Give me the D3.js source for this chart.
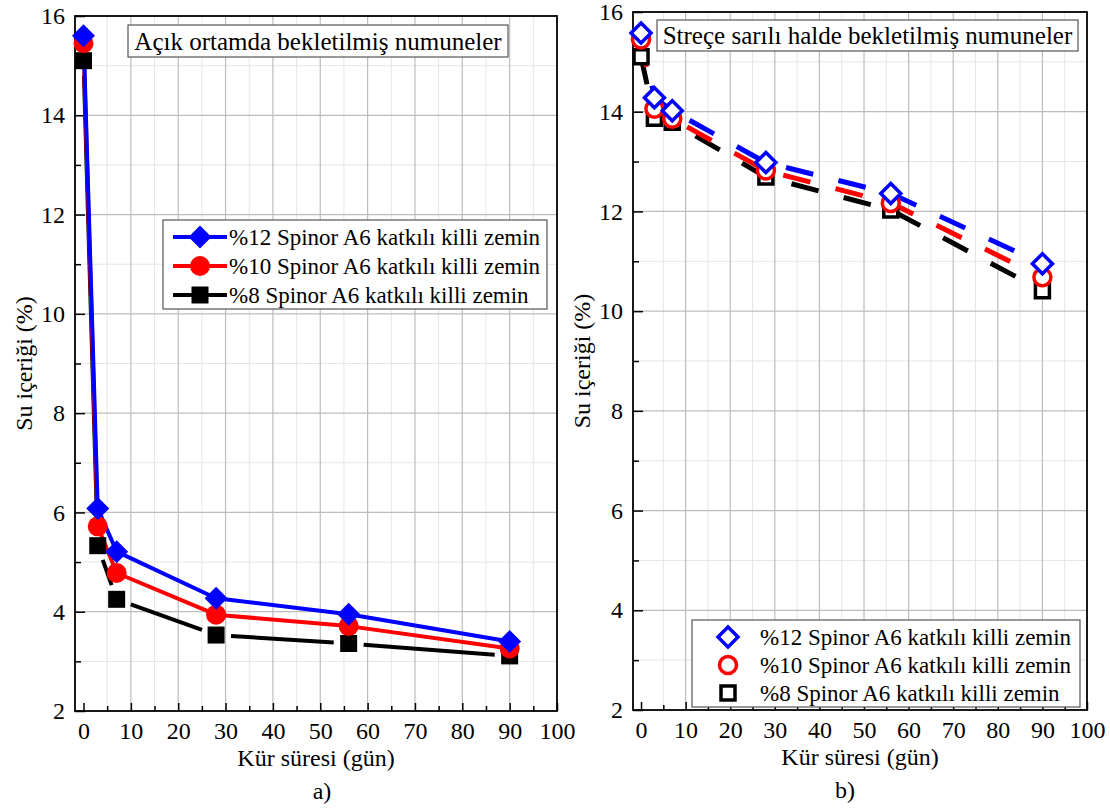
<!DOCTYPE html>
<html>
<head>
<meta charset="utf-8">
<script src="https://cdn.jsdelivr.net/npm/d3@7"></script>
<style>
    body { margin: 0; background: #fff; }
    #chart text { font-family: "Liberation Serif", "Times New Roman", serif !important; fill: #000; }
</style>
</head>
<body>
<svg id="chart" width="1110" height="810"></svg>
<script>
// Kür süresi (gün)
const days = [0, 3, 7, 28, 56, 90];

const seriesLabels = [
    "%12 Spinor A6 katkılı killi zemin",
    "%10 Spinor A6 katkılı killi zemin",
    "%8 Spinor A6 katkılı killi zemin"
];
const seriesColors = ["#0000ff", "#ff0000", "#000000"];
const seriesShapes = ["diamond", "circle", "square"];

// a) Açık ortamda bekletilmiş numuneler
const openAir12 = [15.6, 6.08, 5.21, 4.27, 3.95, 3.40];
const openAir10 = [15.45, 5.72, 4.78, 3.94, 3.71, 3.26];
const openAir8 = [15.1, 5.33, 4.25, 3.53, 3.36, 3.11];

// b) Streçe sarılı halde bekletilmiş numuneler
const wrapped12 = [15.58, 14.28, 14.02, 12.98, 12.36, 10.95];
const wrapped10 = [15.45, 14.06, 13.86, 12.82, 12.17, 10.68];
const wrapped8 = [15.1, 13.87, 13.79, 12.69, 12.03, 10.41];

const xTicks = [0, 10, 20, 30, 40, 50, 60, 70, 80, 90, 100];
const xMinorTicks = [5, 15, 25, 35, 45, 55, 65, 75, 85, 95];
const yTicks = [2, 4, 6, 8, 10, 12, 14, 16];
const yMinorTicks = [3, 5, 7, 9, 11, 13, 15];

const svg = d3.select("#chart");

// Marker path (Origin style: diamond is a rotated square)
function markerPath(shape, s) {
    if (shape === "diamond") return `M0,${-s}L${s},0L0,${s}L${-s},0Z`;
    if (shape === "square") return `M${-s},${-s}H${s}V${s}H${-s}Z`;
    return d3.symbol().type(d3.symbolCircle).size(Math.PI * s * s)();
}

function drawPanel(cfg) {
    const x = d3.scaleLinear().domain([-1.8, 100]).range([cfg.left, cfg.right]);
    const y = d3.scaleLinear().domain([2, 16]).range([cfg.bottom, cfg.top]);
    const g = svg.append("g");

    // grid
    g.selectAll(".vminor").data(xMinorTicks).enter().append("line")
        .attr("x1", d => x(d)).attr("x2", d => x(d))
        .attr("y1", cfg.top).attr("y2", cfg.bottom)
        .attr("stroke", "#e6e6e6").attr("stroke-width", 1);
    g.selectAll(".hminor").data(yMinorTicks).enter().append("line")
        .attr("x1", cfg.left).attr("x2", cfg.right)
        .attr("y1", d => y(d)).attr("y2", d => y(d))
        .attr("stroke", "#e6e6e6").attr("stroke-width", 1);
    g.selectAll(".vmajor").data(xTicks.slice(1, -1)).enter().append("line")
        .attr("x1", d => x(d)).attr("x2", d => x(d))
        .attr("y1", cfg.top).attr("y2", cfg.bottom)
        .attr("stroke", "#bdbdbd").attr("stroke-width", 1.2);
    g.selectAll(".hmajor").data(yTicks.slice(1, -1)).enter().append("line")
        .attr("x1", cfg.left).attr("x2", cfg.right)
        .attr("y1", d => y(d)).attr("y2", d => y(d))
        .attr("stroke", "#bdbdbd").attr("stroke-width", 1.2);

    // axes (ticks inward)
    const xAxis = g.append("g")
        .attr("transform", `translate(0,${cfg.bottom})`)
        .call(d3.axisBottom(x).tickValues(xTicks).tickSize(-8).tickPadding(11).tickFormat(d3.format("d")));
    g.append("g")
        .attr("transform", `translate(0,${cfg.bottom})`)
        .call(d3.axisBottom(x).tickValues(xMinorTicks).tickSize(-5).tickFormat(""));
    const yAxis = g.append("g")
        .attr("transform", `translate(${cfg.left},0)`)
        .call(d3.axisLeft(y).tickValues(yTicks).tickSize(-10).tickPadding(10).tickFormat(d3.format("d")));
    g.append("g")
        .attr("transform", `translate(${cfg.left},0)`)
        .call(d3.axisLeft(y).tickValues(yMinorTicks).tickSize(-6).tickFormat(""));
    g.selectAll(".domain").remove();
    g.selectAll("g").attr("font-family", null).attr("font-size", null);
    g.selectAll(".tick line").attr("stroke", "#000").attr("stroke-width", 1.5);
    xAxis.selectAll("text").style("font-size", "24px");
    yAxis.selectAll("text").style("font-size", "24px");

    // frame
    g.append("rect")
        .attr("x", cfg.left).attr("y", cfg.top)
        .attr("width", cfg.right - cfg.left).attr("height", cfg.bottom - cfg.top)
        .attr("fill", "none").attr("stroke", "#000").attr("stroke-width", 1.8);

    // series (draw from last to first so blue is on top)
    const order = [2, 1, 0];
    order.forEach(i => {
        const pts = days.map((d, k) => [x(d), y(cfg.series[i][k])]);
        const color = seriesColors[i];
        if (cfg.filled) {
            if (i === 2) {
                // black line leaves a gap around its markers
                for (let k = 0; k < pts.length - 1; k++) {
                    const [ax, ay] = pts[k], [bx, by] = pts[k + 1];
                    const len = Math.hypot(bx - ax, by - ay);
                    const gap = 15;
                    if (len <= 2 * gap) continue;
                    const ux = (bx - ax) / len, uy = (by - ay) / len;
                    g.append("line")
                        .attr("x1", ax + ux * gap).attr("y1", ay + uy * gap)
                        .attr("x2", bx - ux * gap).attr("y2", by - uy * gap)
                        .attr("stroke", color).attr("stroke-width", 4);
                }
            } else {
                g.append("path")
                    .attr("d", d3.line()(pts))
                    .attr("fill", "none").attr("stroke", color).attr("stroke-width", 4)
                    .attr("stroke-linejoin", "round");
            }
        } else {
            g.append("path")
                .attr("d", d3.line()(pts))
                .attr("fill", "none").attr("stroke", color).attr("stroke-width", 5)
                .attr("stroke-dasharray", "28,26");
        }
    });
    order.forEach(i => {
        const pts = days.map((d, k) => [x(d), y(cfg.series[i][k])]);
        const shape = seriesShapes[i];
        const size = shape === "diamond" ? 11.5 : shape === "circle" ? 10 : 8.5;
        g.selectAll(null).data(pts).enter().append("path")
            .attr("transform", p => `translate(${p[0]},${p[1]})`)
            .attr("d", markerPath(shape, cfg.filled ? size : size - 1.5))
            .attr("fill", cfg.filled ? seriesColors[i] : "#fff")
            .attr("stroke", seriesColors[i])
            .attr("stroke-width", cfg.filled ? 0 : 3.5);
    });

    // title box
    const tb = g.append("g");
    tb.append("rect")
        .attr("x", cfg.titleBox[0]).attr("y", cfg.titleBox[1])
        .attr("width", cfg.titleBox[2]).attr("height", cfg.titleBox[3])
        .attr("fill", "#fff").attr("stroke", "#555").attr("stroke-width", 1.2);
    tb.append("text")
        .attr("x", cfg.titleBox[0] + cfg.titleBox[2] / 2)
        .attr("y", cfg.titleBox[1] + cfg.titleBox[3] / 2)
        .attr("dy", "0.35em")
        .attr("text-anchor", "middle")
        .style("font-size", "25px")
        .text(cfg.title);

    // legend
    const lg = g.append("g");
    const lb = cfg.legendBox;
    lg.append("rect")
        .attr("x", lb[0]).attr("y", lb[1]).attr("width", lb[2]).attr("height", lb[3])
        .attr("fill", "#fff").attr("stroke", "#555").attr("stroke-width", 1.2);
    seriesLabels.forEach((label, i) => {
        const ry = lb[1] + cfg.legendRow0 + i * cfg.legendStep;
        const shape = seriesShapes[i];
        const size = shape === "diamond" ? 11.5 : shape === "circle" ? 10 : 8.5;
        if (cfg.filled) {
            lg.append("line")
                .attr("x1", cfg.legendMarkerX - 27).attr("x2", cfg.legendMarkerX + 27)
                .attr("y1", ry).attr("y2", ry)
                .attr("stroke", seriesColors[i]).attr("stroke-width", 4);
        }
        lg.append("path")
            .attr("transform", `translate(${cfg.legendMarkerX},${ry})`)
            .attr("d", markerPath(shape, cfg.filled ? size : size - 1.5))
            .attr("fill", cfg.filled ? seriesColors[i] : "#fff")
            .attr("stroke", seriesColors[i])
            .attr("stroke-width", cfg.filled ? 0 : 3.5);
        lg.append("text")
            .attr("x", cfg.legendTextX).attr("y", ry)
            .attr("dy", "0.35em")
            .style("font-size", "23px")
            .text(label);
    });

    // axis titles
    svg.append("text")
        .attr("x", (cfg.left + cfg.right) / 2)
        .attr("y", cfg.bottom + 55)
        .attr("text-anchor", "middle")
        .style("font-size", "24px")
        .text("Kür süresi (gün)");
    svg.append("text")
        .attr("x", cfg.panelLabelX)
        .attr("y", cfg.bottom + 88)
        .attr("text-anchor", "middle")
        .style("font-size", "24px")
        .text(cfg.panelLabel);
    svg.append("text")
        .attr("transform", `translate(${cfg.yLabelX},${(cfg.top + cfg.bottom) / 2}) rotate(-90)`)
        .attr("text-anchor", "middle")
        .attr("dy", "0.35em")
        .style("font-size", "24px")
        .text("Su içeriği (%)");
}

function drawAll() {
    drawPanel({
        left: 75, right: 557, top: 16, bottom: 711,
        series: [openAir12, openAir10, openAir8],
        filled: true,
        title: "Açık ortamda bekletilmiş numuneler",
        titleBox: [128, 25, 380, 32],
        legendBox: [163, 220, 384, 89],
        legendRow0: 17, legendStep: 29,
        legendMarkerX: 200, legendTextX: 229,
        panelLabel: "a)", panelLabelX: 322,
        yLabelX: 24
    });

    drawPanel({
        left: 633, right: 1087, top: 12, bottom: 710,
        series: [wrapped12, wrapped10, wrapped8],
        filled: false,
        title: "Streçe sarılı halde bekletilmiş numuneler",
        titleBox: [657, 20, 421, 31],
        legendBox: [692, 620, 388, 87],
        legendRow0: 17, legendStep: 28,
        legendMarkerX: 728, legendTextX: 760,
        panelLabel: "b)", panelLabelX: 845,
        yLabelX: 582
    });
}

drawAll();
</script>
</body>
</html>
